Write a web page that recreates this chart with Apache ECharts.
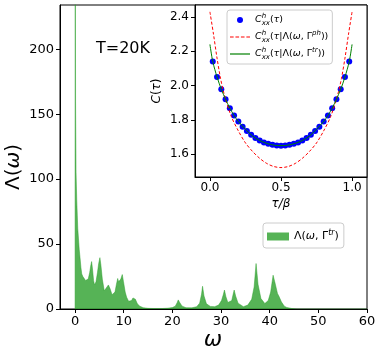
<!DOCTYPE html>
<html>
<head>
<meta charset="utf-8">
<script src="https://cdn.jsdelivr.net/npm/echarts@6/dist/echarts.min.js"></script>
<style>
  html, body { margin: 0; padding: 0; background: #fff; }
  #main { width: 381px; height: 357px; }
</style>
</head>
<body>
<div id="main"></div>
<script>
// spectral function Lambda(omega, Gamma^tr)
var omega = [0, 0.02, 0.1, 0.2, 0.34, 0.55, 0.7, 0.85, 1.03, 1.2, 1.37, 1.6, 1.9, 2.15, 2.4, 2.7, 3.0, 3.2, 3.4, 3.6,
  3.8, 4.0, 4.3, 4.6, 4.85, 5.1, 5.3, 5.6, 6.0, 6.4, 6.85, 7.2, 7.6, 7.9, 8.2, 8.5, 8.76, 8.95, 9.1, 9.4,
  9.7, 9.95, 10.3, 10.6, 11.0, 11.3, 11.6, 11.9, 12.1, 12.4, 12.8, 13.3, 14.0, 15, 16, 17, 18, 19, 20, 20.6,
  21.0, 21.2, 21.5, 22, 22.8, 24, 25, 25.6, 26.0, 26.2, 26.5, 27, 27.8, 28.7, 29.5, 30.1, 30.5, 30.7, 31.0, 31.4,
  31.8, 32.2, 32.5, 32.7, 33.0, 33.5, 34.6, 35.5, 36.3, 36.8, 37.2, 37.6, 38.2, 39.0, 39.7, 40.2, 40.7, 41.1, 41.6, 42.0,
  42.4, 43.0, 43.5, 44.5, 45.5, 60];
var lam = [0, 400, 160, 105, 84, 62, 54, 46, 39, 32, 27, 25, 24, 22, 20.5, 23, 28, 33, 36.5, 30,
  22, 18.5, 21, 28, 35, 39.5, 34, 23, 14, 15, 18.5, 15.5, 11, 10, 13, 19, 23.5, 21, 20, 23,
  26.5, 21, 13, 9, 6, 5.5, 6.5, 8.5, 9, 7.5, 4, 2.2, 1, 0.5, 0.4, 0.4, 0.4, 0.6, 1.1, 2.2,
  5, 7, 5, 2.2, 1, 0.9, 1.8, 4.5, 11.5, 17.5, 10, 4, 2, 1.8, 3, 6.5, 11.5, 14.6, 9.5, 5,
  4, 6.5, 11.5, 14.6, 10, 4.5, 1.8, 3, 7.5, 17, 35, 19, 8, 4.2, 6.5, 13, 26, 20, 12, 9,
  5.5, 2.2, 1.2, 0.4, 0, 0];

// inset: imaginary-time correlator C(tau)
var tauDots = [0.02, 0.05, 0.08, 0.11, 0.14, 0.17, 0.20, 0.23, 0.26, 0.29, 0.32, 0.35, 0.38, 0.41, 0.44, 0.47, 0.50,
  0.53, 0.56, 0.59, 0.62, 0.65, 0.68, 0.71, 0.74, 0.77, 0.80, 0.83, 0.86, 0.89, 0.92, 0.95, 0.98];
var cDots = [2.14, 2.05, 1.978, 1.92, 1.868, 1.825, 1.79, 1.76, 1.735, 1.712, 1.694, 1.679, 1.667, 1.66, 1.654, 1.65, 1.649,
  1.65, 1.654, 1.66, 1.667, 1.679, 1.694, 1.712, 1.735, 1.76, 1.79, 1.825, 1.868, 1.92, 1.978, 2.05, 2.14];

var tauPh = [0, 0.025, 0.05, 0.075, 0.1, 0.15, 0.2, 0.25, 0.3, 0.35, 0.4, 0.45, 0.5,
  0.55, 0.6, 0.65, 0.7, 0.75, 0.8, 0.85, 0.9, 0.925, 0.95, 0.975, 1.0];
var cPh = [2.43, 2.30, 2.16, 2.04, 1.95, 1.82, 1.735, 1.665, 1.615, 1.575, 1.545, 1.527, 1.521,
  1.527, 1.545, 1.575, 1.615, 1.665, 1.735, 1.82, 1.95, 2.04, 2.16, 2.30, 2.43];

var tauTr = [0, 0.02, 0.05, 0.08, 0.11, 0.14, 0.17, 0.2, 0.25, 0.3, 0.35, 0.4, 0.45, 0.5,
  0.55, 0.6, 0.65, 0.7, 0.75, 0.8, 0.83, 0.86, 0.89, 0.92, 0.95, 0.98, 1.0];
var cTr = [2.24, 2.14, 2.05, 1.978, 1.92, 1.868, 1.825, 1.79, 1.745, 1.705, 1.679, 1.662, 1.652, 1.649,
  1.652, 1.662, 1.679, 1.705, 1.745, 1.79, 1.825, 1.868, 1.92, 1.978, 2.05, 2.14, 2.24];

var xTicks = [0, 10, 20, 30, 40, 50, 60];
var yTicks = [0, 50, 100, 150, 200];
var insetXTicks = [0, 0.5, 1.0];
var insetYTicks = [1.6, 1.8, 2.0, 2.2, 2.4];

function pairs(xs, ys) {
  var out = [];
  for (var i = 0; i < xs.length; i++) out.push([xs[i], ys[i]]);
  return out;
}

var FONT = 'DejaVu Sans';
function mathRich(size) {
  var s = Math.round(size * 0.7);
  return {
    n: { fontFamily: FONT, fontSize: size, color: '#000' },
    i: { fontFamily: FONT, fontSize: size, fontStyle: 'italic', color: '#000' },
    sup: { fontFamily: FONT, fontSize: s, fontStyle: 'italic', color: '#000', verticalAlign: 'top', padding: [0, 0, 7, 0], width: 0 },
    sub: { fontFamily: FONT, fontSize: s, fontStyle: 'italic', color: '#000', verticalAlign: 'bottom', padding: [5, 0, 0, 0] },
    supn: { fontFamily: FONT, fontSize: s, fontStyle: 'italic', color: '#000', verticalAlign: 'top', padding: [0, 0, 7, 0] }
  };
}
var legendText = {
  dots: '{i|C}{sup|h}{sub|xx}{n|(}{i|τ}{n|)}',
  ph: '{i|C}{sup|h}{sub|xx}{n|(}{i|τ}{n||Λ(}{i|ω}{n|, Γ}{supn|ph}{n|))}',
  tr: '{i|C}{sup|h}{sub|xx}{n|(}{i|τ}{n||Λ(}{i|ω}{n|, Γ}{supn|tr}{n|))}',
  spec: '{n|Λ(}{i|ω}{n|, Γ}{supn|tr}{n|)}'
};
// legend handles: solid / dashed line strips
var solidIcon = 'path://M0,0h20v1.2h-20z';
var dashIcon = 'path://M0,0h3.6v1.2h-3.6z M5.4,0h3.6v1.2h-3.6z M10.8,0h3.6v1.2h-3.6z M16.2,0h3.6v1.2h-3.6z';

var axisCommon = {
  axisLine: { show: true, onZero: false, lineStyle: { color: '#000', width: 1 } },
  axisTick: { show: true, length: 4, lineStyle: { color: '#000', width: 1 } },
  splitLine: { show: false }
};

var myChart = echarts.init(document.getElementById('main'), null, { renderer: 'canvas' });

var option = {
  animation: false,
  backgroundColor: '#fff',
  grid: [
    { left: 60, top: 5, width: 307, height: 304, show: true, borderColor: '#000', borderWidth: 1, backgroundColor: 'transparent' },
    { left: 195, top: 5, width: 172, height: 172, show: true, borderColor: '#000', borderWidth: 1, backgroundColor: '#fff' }
  ],
  xAxis: [
    Object.assign({}, axisCommon, {
      type: 'value', gridIndex: 0, min: -3.1, max: 60,
      axisTick: Object.assign({}, axisCommon.axisTick, { customValues: xTicks }),
      axisLabel: { customValues: xTicks, fontFamily: FONT, fontSize: 13, color: '#000', margin: 6 }
    }),
    Object.assign({}, axisCommon, {
      type: 'value', gridIndex: 1, min: -0.105, max: 1.105,
      axisTick: Object.assign({}, axisCommon.axisTick, { customValues: insetXTicks }),
      axisLabel: { customValues: insetXTicks, fontFamily: FONT, fontSize: 12, color: '#000', margin: 5,
        formatter: function (v) { return v.toFixed(1); } }
    })
  ],
  yAxis: [
    Object.assign({}, axisCommon, {
      type: 'value', gridIndex: 0, min: 0, max: 234,
      axisTick: Object.assign({}, axisCommon.axisTick, { customValues: yTicks }),
      axisLabel: { customValues: yTicks, fontFamily: FONT, fontSize: 13, color: '#000', margin: 6 }
    }),
    Object.assign({}, axisCommon, {
      type: 'value', gridIndex: 1, min: 1.466, max: 2.47,
      axisTick: Object.assign({}, axisCommon.axisTick, { customValues: insetYTicks }),
      axisLabel: { customValues: insetYTicks, fontFamily: FONT, fontSize: 12, color: '#000', margin: 6,
        formatter: function (v) { return v.toFixed(1); } }
    })
  ],
  legend: [
    {
      data: [
        { name: 'dots', icon: 'circle' },
        { name: 'ph', icon: dashIcon },
        { name: 'tr', icon: solidIcon }
      ],
      orient: 'vertical', left: 227, top: 10,
      itemWidth: 20, itemHeight: 6, itemGap: 3,
      padding: [3, 4, 3, 3],
      backgroundColor: 'rgba(255,255,255,0.8)', borderColor: '#ccc', borderWidth: 1, borderRadius: 3,
      formatter: function (name) { return legendText[name]; },
      textStyle: { rich: mathRich(9.5), fontFamily: FONT, fontSize: 9.5 }
    },
    {
      data: [{ name: 'spec', icon: 'rect' }],
      left: 263, top: 223,
      itemWidth: 22, itemHeight: 8,
      padding: [6, 5, 6, 4],
      backgroundColor: 'rgba(255,255,255,0.8)', borderColor: '#ccc', borderWidth: 1, borderRadius: 3,
      formatter: function (name) { return legendText[name]; },
      textStyle: { rich: mathRich(11), fontFamily: FONT, fontSize: 11 }
    }
  ],
  series: [
    {
      name: 'spec', type: 'line', xAxisIndex: 0, yAxisIndex: 0,
      data: pairs(omega, lam), symbol: 'none', smooth: false,
      lineStyle: { color: '#2ca02c', width: 0.6, opacity: 0.8 },
      itemStyle: { color: '#2ca02c', opacity: 0.8 },
      areaStyle: { color: '#2ca02c', opacity: 0.8 }
    },
    {
      name: 'ph', type: 'line', xAxisIndex: 1, yAxisIndex: 1,
      data: pairs(tauPh, cPh), symbol: 'none', smooth: 0.3,
      lineStyle: { color: '#ff0000', width: 1, type: [3, 2] },
      itemStyle: { color: '#ff0000' }
    },
    {
      name: 'tr', type: 'line', xAxisIndex: 1, yAxisIndex: 1,
      data: pairs(tauTr, cTr), symbol: 'none', smooth: 0.3,
      lineStyle: { color: '#008000', width: 1 },
      itemStyle: { color: '#008000' }
    },
    {
      name: 'dots', type: 'scatter', xAxisIndex: 1, yAxisIndex: 1,
      data: pairs(tauDots, cDots), symbol: 'circle', symbolSize: 6,
      itemStyle: { color: '#0000ff', opacity: 1 }, z: 1
    }
  ],
  graphic: [
    { type: 'text', left: 96, top: 41, style: { text: 'T=20K', font: '16px "DejaVu Sans"', fill: '#000' } },
    {
      type: 'text', x: 14, y: 167, rotation: Math.PI / 2,
      style: {
        text: '{n|Λ(}{i|ω}{n|)}', align: 'center', verticalAlign: 'middle',
        rich: {
          n: { fontFamily: FONT, fontSize: 20, fill: '#000' },
          i: { fontFamily: FONT, fontSize: 20, fontStyle: 'italic', fill: '#000' }
        }
      }
    },
    {
      type: 'text', x: 213, y: 340,
      style: { text: 'ω', align: 'center', verticalAlign: 'middle', font: 'italic 22px "DejaVu Sans"', fill: '#000' }
    },
    {
      type: 'text', x: 157, y: 91, rotation: Math.PI / 2,
      style: {
        text: '{i|C}{n|(}{i|τ}{n|)}', align: 'center', verticalAlign: 'middle',
        rich: {
          n: { fontFamily: FONT, fontSize: 12, fill: '#000' },
          i: { fontFamily: FONT, fontSize: 12, fontStyle: 'italic', fill: '#000' }
        }
      }
    },
    {
      type: 'text', x: 281, y: 204,
      style: { text: 'τ/β', align: 'center', verticalAlign: 'middle', font: 'italic 12px "DejaVu Sans"', fill: '#000' }
    }
  ]
};
myChart.setOption(option, true);
</script>
</body>
</html>
